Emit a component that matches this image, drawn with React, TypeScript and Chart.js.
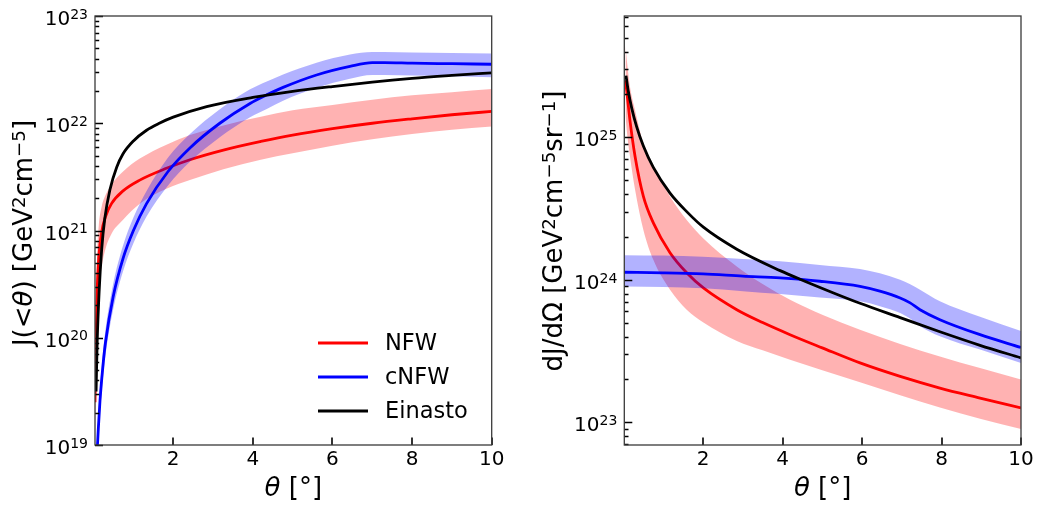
import React, { useEffect, useRef } from 'react';
import { Chart, registerables } from 'chart.js';

Chart.register(...registerables);

const FAMILY = "'DejaVu Sans', 'Noto Sans', sans-serif";

// ---------- Left panel: J(<theta) ----------
const thetaNfwJ = [0.035, 0.06, 0.09, 0.13, 0.2, 0.3, 0.45, 0.74, 1.16, 1.83, 2.42, 3.26, 4.2, 5, 6, 7, 8, 9, 10];
const nfwJ = [2.51e19, 8.91e19, 2.82e20, 5.62e20, 9.55e20, 1.35e21, 1.78e21, 2.34e21, 2.95e21, 3.8e21, 4.57e21, 5.62e21, 6.76e21, 7.76e21, 8.91e21, 1.0e22, 1.1e22, 1.2e22, 1.29e22];
const nfwJHigh = [5.01e19, 2.0e20, 6.31e20, 1.12e21, 1.66e21, 2.14e21, 2.69e21, 3.55e21, 4.68e21, 6.31e21, 7.76e21, 9.55e21, 1.15e22, 1.32e22, 1.48e22, 1.66e22, 1.82e22, 1.95e22, 2.09e22];
const nfwJLow = [1.26e19, 3.98e19, 1.12e20, 2.51e20, 4.47e20, 6.76e20, 9.33e20, 1.26e21, 1.78e21, 2.45e21, 2.95e21, 3.72e21, 4.57e21, 5.25e21, 6.17e21, 7.08e21, 7.94e21, 8.71e21, 9.33e21];

const thetaCnfwJ = [0.09, 0.12, 0.16, 0.24, 0.3, 0.49, 0.74, 1.0, 1.33, 1.87, 2.42, 3.17, 3.93, 4.35, 4.76, 5.6, 6.44, 7.0, 7.3, 8, 9, 10];
const cnfwJ = [8.91e18, 1.45e19, 2.57e19, 5.75e19, 9.12e19, 2.4e20, 5.5e20, 1.0e21, 1.78e21, 3.55e21, 5.89e21, 1.0e22, 1.53e22, 1.84e22, 2.16e22, 2.82e22, 3.39e22, 3.67e22, 3.67e22, 3.63e22, 3.59e22, 3.55e22];
const cnfwJHigh = [1.17e19, 1.91e19, 3.39e19, 7.59e19, 1.2e20, 3.16e20, 7.24e20, 1.32e21, 2.34e21, 4.79e21, 7.94e21, 1.35e22, 2.07e22, 2.45e22, 2.85e22, 3.67e22, 4.37e22, 4.62e22, 4.62e22, 4.57e22, 4.52e22, 4.47e22];
const cnfwJLow = [6.76e18, 1.1e19, 1.95e19, 4.37e19, 6.92e19, 1.82e20, 4.17e20, 7.59e20, 1.35e21, 2.63e21, 4.37e21, 7.41e21, 1.14e22, 1.36e22, 1.62e22, 2.14e22, 2.6e22, 2.82e22, 2.82e22, 2.79e22, 2.75e22, 2.69e22];

const thetaEinJ = [0.062, 0.09, 0.14, 0.2, 0.28, 0.41, 0.58, 0.74, 1.0, 1.33, 1.65, 2, 2.84, 4, 5, 6, 7, 8, 9, 10];
const einJ = [3.16e19, 9.12e19, 2.75e20, 6.46e20, 1.29e21, 2.4e21, 3.89e21, 5.19e21, 6.84e21, 8.61e21, 1.0e22, 1.14e22, 1.43e22, 1.74e22, 1.98e22, 2.2e22, 2.42e22, 2.62e22, 2.79e22, 2.95e22];

// ---------- Right panel: dJ/dOmega ----------
const thetaNfwD = [0.05, 0.1, 0.16, 0.29, 0.5, 0.75, 1.17, 1.59, 2.01, 2.85, 3.5, 4.19, 5, 5.95, 6.96, 7.96, 8.97, 10];
const nfwD = [2.51e25, 1.89e25, 1.33e25, 7.36e24, 3.85e24, 2.51e24, 1.55e24, 1.12e24, 8.77e23, 6.17e23, 5.01e23, 4.12e23, 3.33e23, 2.61e23, 2.1e23, 1.74e23, 1.48e23, 1.26e23];
const nfwDHigh = [4.37e25, 3.16e25, 2.29e25, 1.55e25, 9.12e24, 6.31e24, 3.85e24, 2.63e24, 1.95e24, 1.24e24, 9.33e23, 7.24e23, 5.69e23, 4.47e23, 3.55e23, 2.9e23, 2.4e23, 2.0e23];
const nfwDLow = [1.41e25, 1.0e25, 7.41e24, 4.3e24, 2.24e24, 1.38e24, 8.51e23, 6.17e23, 5.01e23, 3.72e23, 3.2e23, 2.75e23, 2.32e23, 1.91e23, 1.55e23, 1.27e23, 1.06e23, 8.97e22];

const thetaCnfwD = [0.02, 1, 2, 3, 3.94, 4.94, 5.95, 6.45, 6.96, 7.2, 7.46, 7.96, 8.97, 10];
const cnfwD = [1.13e24, 1.12e24, 1.1e24, 1.06e24, 1.03e24, 9.77e23, 8.99e23, 8.32e23, 7.46e23, 6.92e23, 6.17e23, 5.25e23, 4.12e23, 3.35e23];
const cnfwDHigh = [1.49e24, 1.48e24, 1.45e24, 1.4e24, 1.35e24, 1.27e24, 1.19e24, 1.11e24, 1.0e24, 9.33e23, 8.51e23, 7.06e23, 5.5e23, 4.37e23];
const cnfwDLow = [8.99e23, 8.91e23, 8.71e23, 8.32e23, 7.94e23, 7.5e23, 7.06e23, 6.53e23, 5.86e23, 5.37e23, 4.73e23, 4.02e23, 3.24e23, 2.61e23];

const thetaEinD = [0.063, 0.12, 0.205, 0.33, 0.5, 0.75, 1.17, 1.59, 2.01, 2.85, 3.94, 4.44, 5.95, 6.96, 7.96, 8.97, 10];
const einD = [2.71e25, 2.11e25, 1.61e25, 1.19e25, 8.69e24, 6.15e24, 4.06e24, 3.01e24, 2.34e24, 1.64e24, 1.16e24, 1.01e24, 6.84e23, 5.43e23, 4.32e23, 3.47e23, 2.83e23];

// ---------- Axes / labels ----------
const xTicks = [2, 4, 6, 8, 10];
const yMajorsJ = [1e19, 1e20, 1e21, 1e22, 1e23];
const yMajorsD = [1e23, 1e24, 1e25];
const legendLabels = ['NFW', 'cNFW', 'Einasto'];
const legendColors = ['#ff0000', '#0000ff', '#000000'];

type Part = { t: string; it?: boolean; sup?: boolean };
const xTitleParts: Part[] = [{ t: 'θ', it: true }, { t: ' [' }, { t: '°' }, { t: ']' }];
const yTitleJ: Part[] = [
  { t: 'J(<' }, { t: 'θ', it: true }, { t: ') [GeV' }, { t: '2', sup: true }, { t: 'cm' }, { t: '−5', sup: true }, { t: ']' },
];
const yTitleD: Part[] = [
  { t: 'dJ/dΩ [GeV' }, { t: '2', sup: true }, { t: 'cm' }, { t: '−5', sup: true }, { t: 'sr' }, { t: '−1', sup: true }, { t: ']' },
];

const TICK_SIZE = 20;
const TITLE_SIZE = 26;
const LEGEND_SIZE = 22.5;
const LINE_W = 2.8;

const pts = (xs: number[], ys: number[]) => xs.map((x, i) => ({ x, y: ys[i] }));

const zeroPad = (s: any) => {
  s.paddingLeft = 0;
  s.paddingRight = 0;
  s.paddingTop = 0;
  s.paddingBottom = 0;
};

function drawParts(ctx: CanvasRenderingContext2D, parts: Part[], size: number, x: number, y: number, align: 'center' | 'right', rise: number) {
  const fonts = parts.map((p) => `${p.it ? 'italic ' : ''}${p.sup ? size * 0.7 : size}px ${FAMILY}`);
  let total = 0;
  const ws = parts.map((p, i) => {
    ctx.font = fonts[i];
    const w = ctx.measureText(p.t).width;
    total += w;
    return w;
  });
  let cx = align === 'center' ? x - total / 2 : x - total;
  ctx.textAlign = 'left';
  ctx.textBaseline = 'alphabetic';
  parts.forEach((p, i) => {
    ctx.font = fonts[i];
    ctx.fillText(p.t, cx, p.sup ? y - rise : y);
    cx += ws[i];
  });
}

const frameTicks = {
  id: 'frameTicks',
  afterDatasetsDraw(chart: any) {
    const { ctx, chartArea: a, scales } = chart;
    const xs = scales.x;
    const ys = scales.y;
    ctx.save();
    ctx.strokeStyle = '#000';
    ctx.lineCap = 'butt';
    ctx.lineWidth = 1.6;
    ctx.beginPath();
    for (const t of xTicks) {
      const px = Math.round(xs.getPixelForValue(t));
      ctx.moveTo(px, a.bottom);
      ctx.lineTo(px, a.bottom - 7.5);
    }
    const lo = Math.floor(Math.log10(ys.min));
    const hi = Math.ceil(Math.log10(ys.max));
    for (let e = lo; e <= hi; e++) {
      for (let k = 1; k <= 9; k++) {
        const v = k * Math.pow(10, e);
        if (v < ys.min * 0.999 || v > ys.max * 1.001) continue;
        const py = Math.round(ys.getPixelForValue(v)) + 0.5;
        ctx.moveTo(a.left, py);
        ctx.lineTo(a.left + (k === 1 ? 8 : 4.2), py);
      }
    }
    ctx.stroke();
    ctx.strokeStyle = '#3a3a3a';
    ctx.lineWidth = 1.3;
    ctx.strokeRect(a.left, a.top, a.right - a.left, a.bottom - a.top);
    ctx.restore();
  },
};

const makeTextPlugin = (p: any) => ({
  id: 'mathText',
  afterDraw(chart: any) {
    const { ctx, chartArea: a, scales } = chart;
    ctx.save();
    ctx.fillStyle = '#000';
    for (const v of p.majors) {
      const py = scales.y.getPixelForValue(v);
      const e = Math.round(Math.log10(v));
      drawParts(ctx, [{ t: '10' }, { t: String(e), sup: true }], TICK_SIZE, a.left - 7, py + 9, 'right', 6.3);
    }
    drawParts(ctx, xTitleParts, TITLE_SIZE, (a.left + a.right) / 2, 495.5, 'center', 7);
    ctx.translate(p.yTitleX, (a.top + a.bottom) / 2 + p.yTitleShift);
    ctx.rotate(-Math.PI / 2);
    drawParts(ctx, p.yTitle, TITLE_SIZE, 0, 0, 'center', 7);
    ctx.restore();
    if (p.legend) {
      ctx.save();
      ctx.font = `${LEGEND_SIZE}px ${FAMILY}`;
      ctx.textBaseline = 'middle';
      ctx.textAlign = 'left';
      legendLabels.forEach((lab, i) => {
        const y = 343 + i * 34;
        ctx.strokeStyle = legendColors[i];
        ctx.lineWidth = LINE_W;
        ctx.beginPath();
        ctx.moveTo(318, y);
        ctx.lineTo(368, y);
        ctx.stroke();
        ctx.fillStyle = '#000';
        ctx.fillText(lab, 385, y + 1);
      });
      ctx.restore();
    }
  },
});

const lineDs = (label: string, xs: number[], ys: number[], color: string, order: number) => ({
  label,
  data: pts(xs, ys),
  borderColor: color,
  borderWidth: LINE_W,
  pointRadius: 0,
  fill: false,
  cubicInterpolationMode: 'monotone',
  clip: 0,
  order,
});

const bandDs = (label: string, xs: number[], ys: number[], color: string, fill: any, order: number) => ({
  label,
  data: pts(xs, ys),
  borderWidth: 0,
  borderColor: 'rgba(0,0,0,0)',
  backgroundColor: color,
  pointRadius: 0,
  fill,
  cubicInterpolationMode: 'monotone',
  clip: 0,
  order,
});

const RED_BAND = 'rgba(255,0,0,0.3)';
const BLUE_BAND = 'rgba(0,0,255,0.3)';

function makeConfig(p: any) {
  return {
    type: 'line',
    data: {
      datasets: [
        lineDs('Einasto', p.thEin, p.ein, '#000000', 0),
        lineDs('cNFW', p.thC, p.c, '#0000ff', 1),
        lineDs('NFW', p.thN, p.n, '#ff0000', 3),
        bandDs('cNFW high', p.thC, p.cHi, BLUE_BAND, '+1', 2),
        bandDs('cNFW low', p.thC, p.cLo, BLUE_BAND, false, 2),
        bandDs('NFW high', p.thN, p.nHi, RED_BAND, '+1', 4),
        bandDs('NFW low', p.thN, p.nLo, RED_BAND, false, 4),
      ],
    },
    options: {
      animation: false,
      responsive: false,
      devicePixelRatio: 1,
      events: [],
      layout: { padding: { left: 0, top: 16, right: p.padRight, bottom: 0 } },
      plugins: { legend: { display: false }, tooltip: { enabled: false }, title: { display: false } },
      scales: {
        x: {
          type: 'linear',
          min: p.xMin,
          max: 10,
          afterBuildTicks: (s: any) => {
            s.ticks = xTicks.map((v) => ({ value: v }));
          },
          afterFit: (s: any) => {
            s.height = 60;
            zeroPad(s);
          },
          grid: { display: false, drawTicks: false },
          border: { display: false },
          ticks: {
            autoSkip: false,
            maxRotation: 0,
            padding: 3,
            color: '#000',
            font: { family: FAMILY, size: TICK_SIZE },
            callback: (v: any) => String(v),
          },
          title: { display: false },
        },
        y: {
          type: 'logarithmic',
          min: p.yMin,
          max: p.yMax,
          afterBuildTicks: (s: any) => {
            s.ticks = p.majors.map((v: number) => ({ value: v }));
          },
          afterFit: (s: any) => {
            s.width = p.yWidth;
            zeroPad(s);
          },
          grid: { display: false, drawTicks: false },
          border: { display: false },
          ticks: { display: false },
          title: { display: false },
        },
      },
    },
    plugins: [frameTicks, makeTextPlugin(p)],
  };
}

const leftParams = {
  thN: thetaNfwJ, n: nfwJ, nHi: nfwJHigh, nLo: nfwJLow,
  thC: thetaCnfwJ, c: cnfwJ, cHi: cnfwJHigh, cLo: cnfwJLow,
  thEin: thetaEinJ, ein: einJ,
  xMin: 0.035, yMin: 1e19, yMax: 1e23, majors: yMajorsJ,
  yWidth: 95, padRight: 28.3, yTitle: yTitleJ, yTitleX: 31.5, yTitleShift: 2.5, legend: true,
};

const rightParams = {
  thN: thetaNfwD, n: nfwD, nHi: nfwDHigh, nLo: nfwDLow,
  thC: thetaCnfwD, c: cnfwD, cHi: cnfwDHigh, cLo: cnfwDLow,
  thEin: thetaEinD, ein: einD,
  xMin: 0.02, yMin: 6.93e22, yMax: 7.1e25, majors: yMajorsD,
  yWidth: 104.3, padRight: 18, yTitle: yTitleD, yTitleX: 41.5, yTitleShift: 0.5, legend: false,
};

function Panel({ left, width, params }: { left: number; width: number; params: any }) {
  const ref = useRef<HTMLCanvasElement | null>(null);
  useEffect(() => {
    if (!ref.current) return;
    const chart = new Chart(ref.current, makeConfig(params) as any);
    return () => chart.destroy();
  }, []);
  return (
    <canvas
      ref={ref}
      width={width}
      height={505}
      style={{ position: 'absolute', left, top: 0, width, height: 505 }}
    />
  );
}

export default function App() {
  return (
    <div style={{ position: 'absolute', left: 0, top: 0, width: 1039, height: 505, background: '#fff' }}>
      <Panel left={0} width={520} params={leftParams} />
      <Panel left={520} width={519} params={rightParams} />
    </div>
  );
}
